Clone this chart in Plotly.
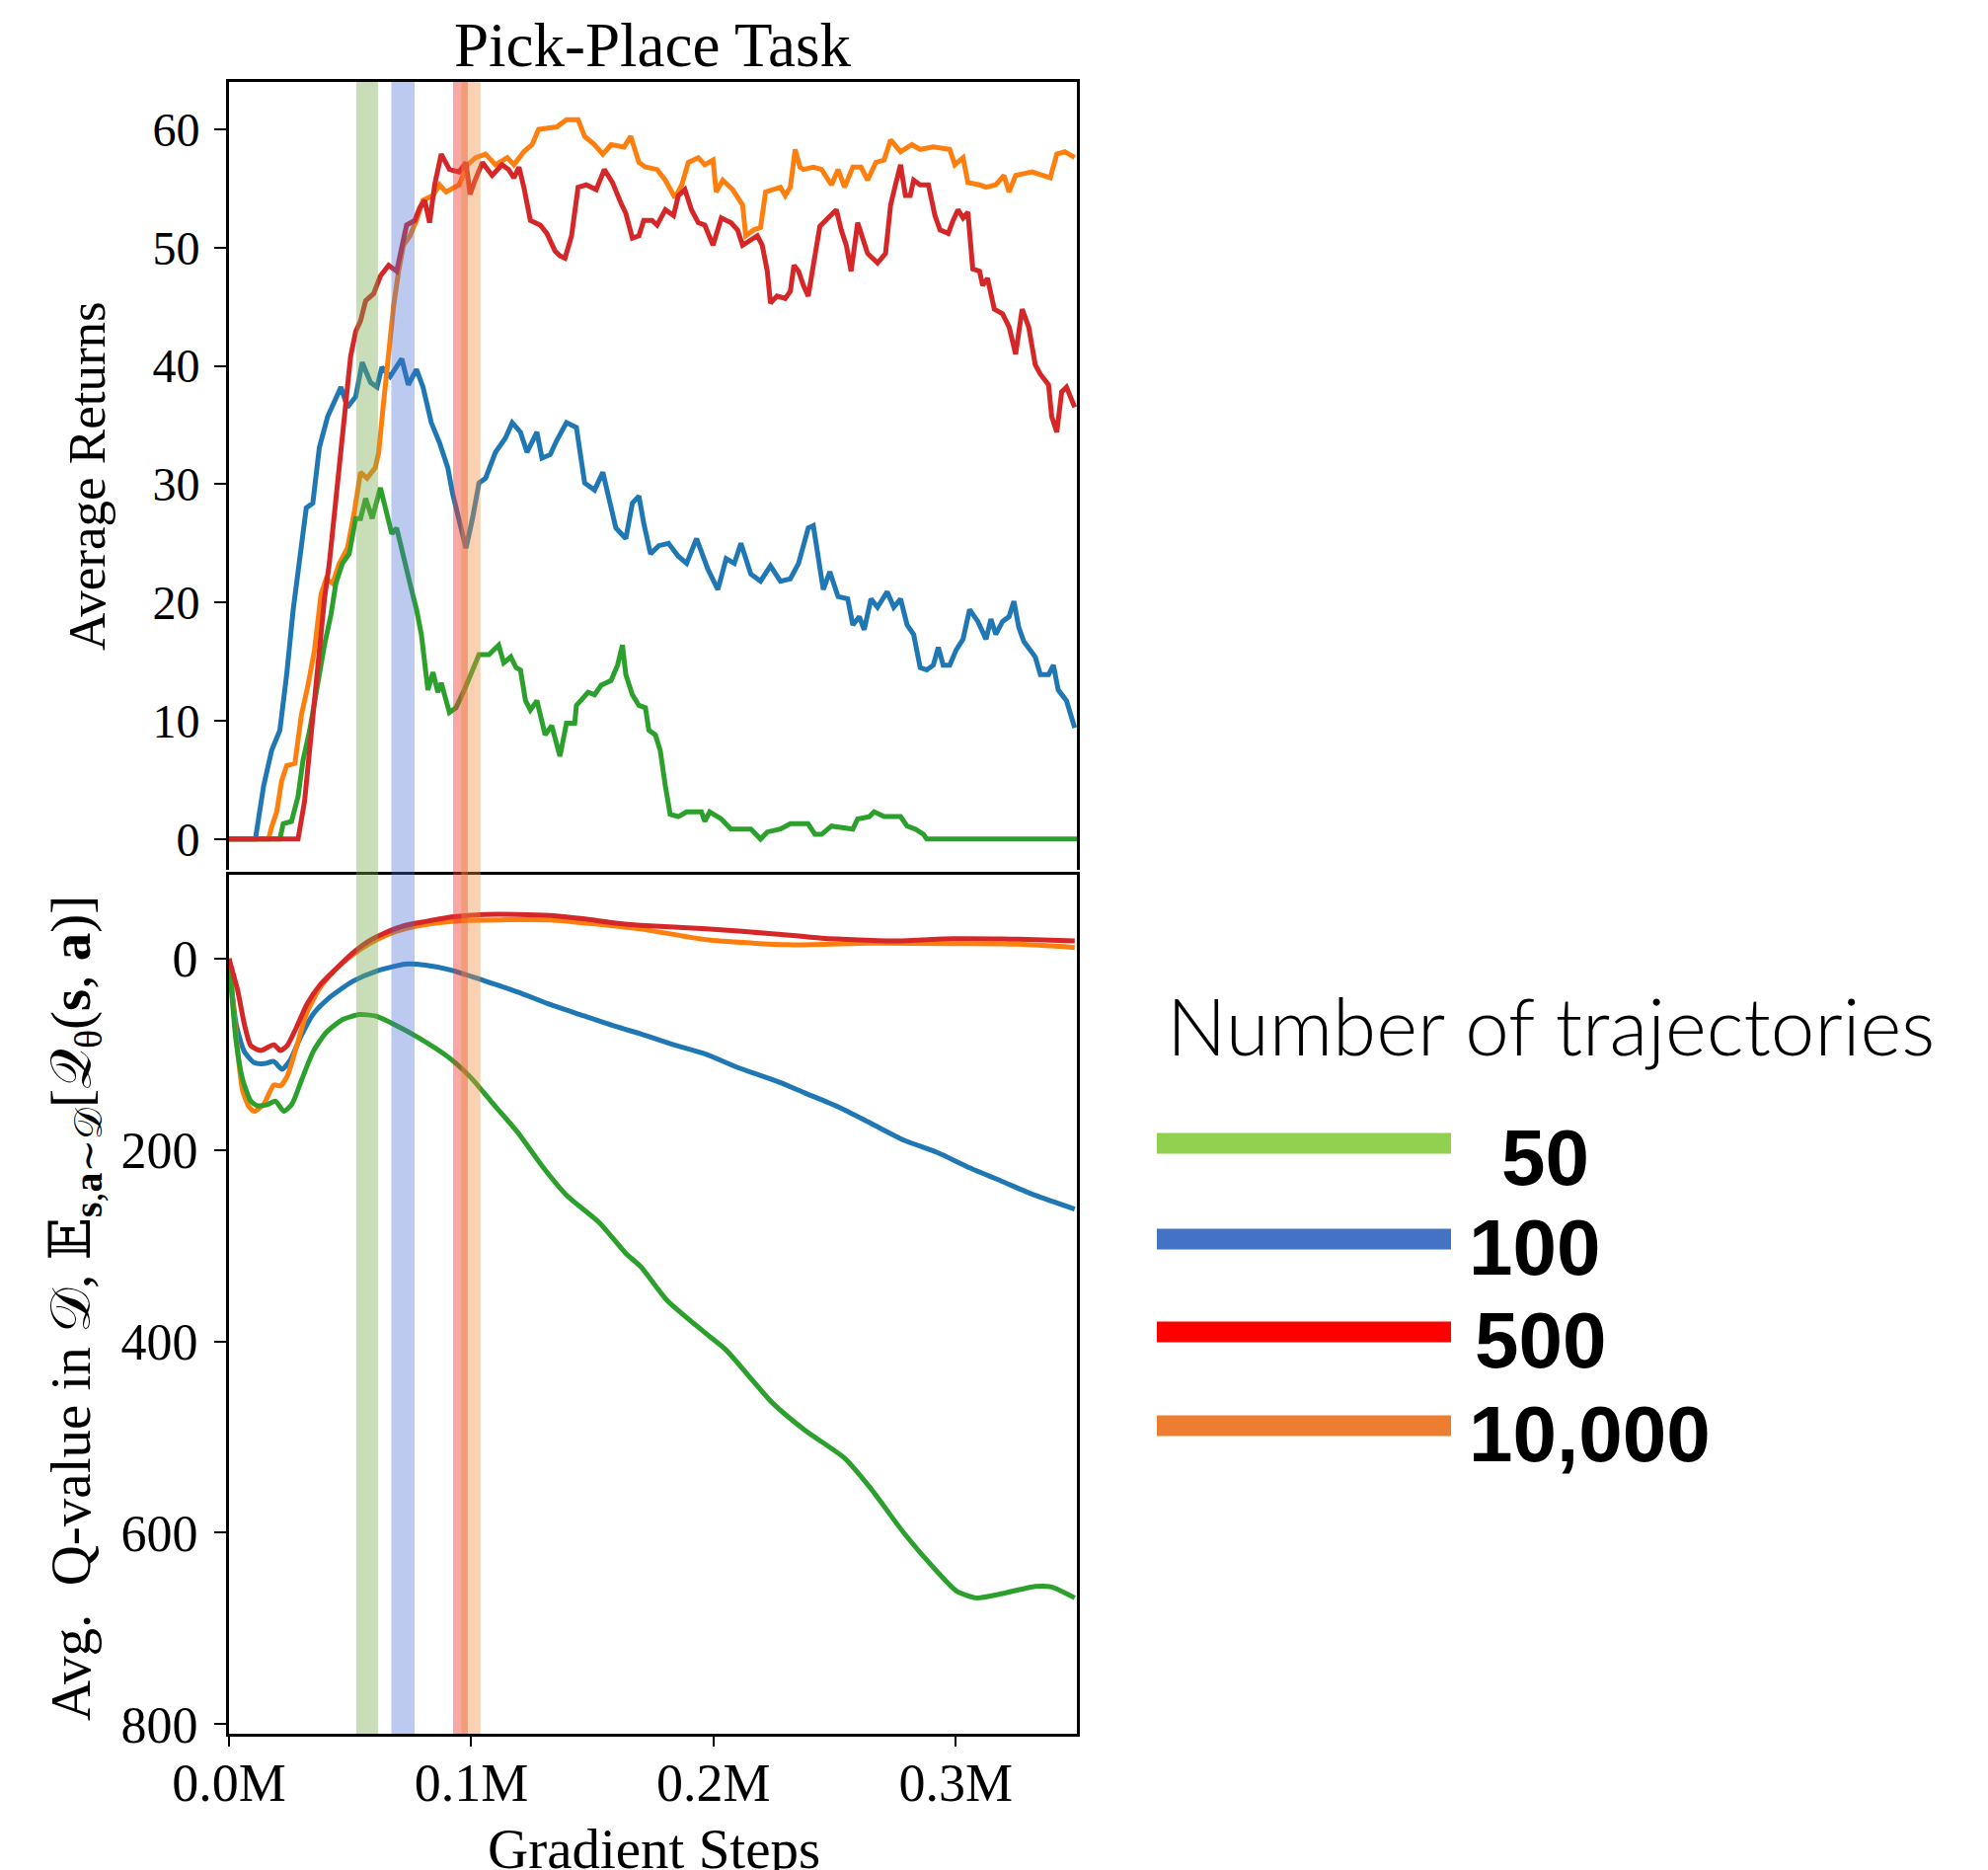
import plotly.graph_objects as go

W, H = 2014, 1894

# ---------------- data (x in thousands of gradient steps) ----------------
ret_50_x = [0, 21, 22.4, 25.8, 28.5, 30.5, 33.3, 36.7, 39.4, 42.1, 44.1, 46.8, 49.6, 52.3, 54.3, 56.4, 59.1, 62.5, 65.2, 67.2, 69.2, 72, 74.7, 77.4, 79.4, 82.1, 84.2, 86.2, 87.6, 91, 93.7, 97.1, 100.5, 103.2, 107.3, 111.3, 113.4, 116.3, 118.5, 120.3, 122.4, 124.4, 127.1, 130.5, 133.2, 136.6, 139.3, 142.7, 143.4, 148.2, 150.9, 153.6, 157.7, 160.4, 162.4, 163.8, 166.5, 169.2, 171.9, 173.3, 176, 178, 180.1, 182.1, 185.5, 188.9, 195, 196.4, 198.4, 203.2, 207.2, 215.4, 219.4, 222.2, 227.6, 231.7, 239, 241.9, 244.6, 248.7, 257.5, 259.5, 264.3, 266.3, 270.4, 277.2, 279.9, 283.3, 286.7, 288, 350]
ret_50_y = [0, 0, 1.3, 1.5, 3.6, 6.6, 9.2, 13.4, 16.4, 19, 21.6, 23.3, 24.1, 27.1, 27.1, 28.8, 27.1, 29.7, 27.5, 25.8, 26.3, 24.1, 21.6, 19.4, 17.3, 12.6, 14.1, 12.4, 13.2, 10.7, 11.1, 12.6, 14.3, 15.6, 15.6, 16.4, 14.9, 15.4, 14.5, 14.3, 11.7, 10.9, 11.7, 8.8, 9.6, 7, 9.8, 9.8, 11.3, 12.4, 12.2, 13, 13.4, 14.7, 16.4, 13.9, 12.2, 11.3, 11.1, 9.2, 8.8, 7.5, 4.5, 2.1, 1.9, 2.3, 2.3, 1.5, 2.3, 1.7, 0.85, 0.85, 0, 0.6, 0.85, 1.3, 1.3, 0.4, 0.4, 1.1, 0.85, 1.7, 1.9, 2.3, 1.9, 1.9, 1.1, 0.85, 0.4, 0, 0]

ret_100_x = [0, 10.9, 14.3, 17.6, 21, 23.8, 26.5, 29.2, 31.9, 34.6, 37.3, 40.7, 44.1, 46.2, 48.9, 52.3, 55, 58.4, 61.1, 63.1, 66.5, 71.3, 74, 77.4, 80.1, 83.5, 86.9, 90.3, 92.3, 95, 97.8, 100.5, 103.2, 105.9, 110, 114.1, 116.9, 120.3, 123, 127.1, 129.2, 132.6, 135.3, 139.3, 143.4, 146.8, 150.9, 154.3, 159.7, 163.8, 166.5, 169.2, 171.2, 174, 177.4, 181.4, 185.5, 188.9, 193, 197.7, 201.8, 205.2, 208.6, 211.3, 215.4, 219.4, 223.5, 227.6, 231.7, 235.1, 237.5, 239.1, 241.2, 243.2, 245.3, 248, 251.4, 255.4, 257.5, 260.2, 262.2, 265, 267.7, 271.7, 274.4, 277.2, 279.9, 282.6, 285.3, 288, 290.7, 292.8, 294.8, 297.5, 300.2, 303, 305.7, 309.1, 312.5, 314.5, 316.5, 319.3, 322, 324, 326, 328.1, 330.1, 332.8, 334.9, 338.3, 340.3, 342.3, 345.7, 349.1]
ret_100_y = [0, 0, 4.5, 7.5, 9.2, 13.9, 19.4, 24.1, 28, 28.4, 33.1, 35.7, 37.4, 38.2, 36.5, 37.4, 40.3, 38.6, 38.2, 39.9, 39.1, 40.6, 38.4, 39.7, 38.2, 35.2, 33.5, 31.4, 29.2, 27.1, 24.6, 27.1, 30.1, 30.5, 32.7, 33.9, 35.2, 34.4, 32.7, 34.4, 32.2, 32.5, 33.7, 35.2, 34.8, 30.1, 29.5, 31, 26.3, 25.4, 28.4, 29, 26.7, 24.1, 24.8, 25, 23.9, 23.3, 25.4, 22.8, 21.1, 23.7, 23.3, 25, 22.4, 21.8, 23.1, 21.8, 22, 23.3, 25, 26.3, 26.5, 24.1, 21.1, 22.6, 20.5, 20.3, 18.1, 18.8, 17.7, 20.3, 19.6, 20.9, 19.6, 20.3, 18.1, 17.3, 14.5, 14.3, 14.7, 16.2, 14.7, 14.7, 16, 16.9, 19.4, 18.4, 16.9, 18.6, 17.3, 18.4, 18.8, 20.1, 17.9, 16.7, 16.2, 15.4, 13.9, 13.9, 14.7, 12.6, 11.7, 9.4]

ret_500_x = [0, 28.5, 31.2, 33.9, 36.7, 39.4, 41.4, 44.1, 46.8, 48.9, 50.2, 52.3, 54.3, 56.4, 59.7, 62.5, 65.9, 69.2, 71.3, 73.3, 76.7, 78.8, 80.8, 82.8, 84.9, 87.6, 91, 95, 97.8, 99.5, 101.2, 104.6, 108.6, 112.7, 115.4, 117.6, 119.7, 121.7, 124.4, 128.5, 131.2, 134.6, 136.6, 138.7, 141.4, 144.1, 147.5, 151.6, 154.9, 158.3, 161.7, 163.8, 166.5, 169.2, 171.2, 174.6, 176.7, 180.1, 183.5, 185.5, 188.2, 190.9, 193.7, 196.4, 199.8, 203.2, 207.2, 209.9, 212, 216, 218.1, 220.1, 222.2, 223.5, 226.2, 229.6, 231.7, 233.2, 235.1, 237.1, 239.1, 241.2, 243.9, 247.3, 250.7, 252.7, 254.8, 256.8, 259.5, 263.6, 267.7, 271, 273.1, 275.1, 277.2, 279.2, 281.2, 282.6, 285.3, 288.7, 291.4, 293.5, 296.9, 298.9, 300.9, 303, 305, 307, 309.8, 311.1, 313.1, 315.9, 319.3, 322, 324.7, 327.4, 330.1, 332.8, 334.9, 338.3, 339.6, 341.7, 343.7, 345.7, 349.1]
ret_500_y = [0, 0, 3.2, 8.8, 14.3, 20.3, 23.3, 28.4, 33.5, 37.8, 40.8, 42.9, 43.8, 45.5, 46.1, 47.6, 48.5, 48, 50.2, 51.9, 52.3, 53.4, 54, 52.1, 55.3, 57.9, 56.6, 56.4, 57.2, 54.5, 55.5, 57.2, 56.1, 57, 56.6, 55.9, 56.8, 55.1, 52.3, 51.9, 51.2, 49.7, 49.3, 49.1, 51, 55.1, 55.3, 54.9, 56.6, 55.5, 53.8, 52.9, 50.8, 51, 52.3, 52.3, 51.9, 53.2, 52.7, 54.4, 54.9, 53.2, 52.1, 51.9, 50.2, 52.5, 52.1, 51.5, 50.2, 50.8, 51, 50.2, 48, 45.3, 45.9, 45.7, 46.3, 48.5, 48, 46.8, 45.9, 48.5, 51.8, 52.5, 53.2, 51.5, 50.2, 48, 52.1, 49.5, 48.7, 49.5, 53.6, 55.3, 57, 54.4, 54.4, 55.7, 55.3, 55.3, 52.7, 51.5, 51.2, 52.3, 53.2, 52.5, 53, 48.2, 48, 46.8, 47.4, 44.8, 44.4, 43.3, 41, 44.8, 43.3, 40.1, 39.3, 38.4, 35.7, 34.4, 37.8, 38.2, 36.5]

ret_10000_x = [0, 16.3, 17.7, 19.7, 21.7, 23.8, 27.2, 29.9, 32.6, 35.3, 38, 40.1, 42.8, 45.5, 48.9, 51.6, 54.3, 57, 60.4, 61.8, 63.8, 65.9, 67.9, 70, 72, 74.7, 77.4, 80.1, 84.2, 86.9, 89.6, 95, 98.5, 101.8, 105.9, 110, 114.9, 117.6, 121.7, 125.1, 127.8, 135.3, 139.3, 144.1, 146.8, 150.9, 154.3, 157.7, 163.1, 165.8, 169.2, 171.9, 176.7, 180.1, 184.1, 186.9, 189.6, 193.7, 196.4, 199.8, 201.1, 203.8, 207.9, 212, 213.3, 216.7, 219.4, 221.5, 224.9, 227.6, 229.6, 231.7, 233.7, 235.7, 237.1, 241.2, 244.6, 248.7, 251.4, 254.1, 257.5, 260.9, 263.6, 267, 270.4, 273.1, 277.2, 281.9, 285.3, 290.7, 297.5, 299.6, 303, 305, 309.8, 312.5, 316.5, 319.9, 322, 324.7, 331.5, 339, 341.7, 345, 349.1]
ret_10000_y = [0, 0, 1.1, 2.3, 4.9, 6.2, 6.4, 10.5, 13, 16, 20.7, 22, 21.6, 23.3, 24.6, 27.5, 31, 30.5, 31.4, 32.7, 36.9, 41.2, 45, 48, 50.2, 51, 52.3, 54, 54.4, 55.3, 54.7, 55.3, 57, 57.6, 57.9, 57, 57.6, 57, 58.1, 58.7, 60, 60.2, 60.8, 60.8, 59.4, 58.7, 57.9, 58.7, 58.5, 59.4, 57.2, 56.8, 56.6, 55.7, 54.2, 55.3, 57.2, 57.6, 57, 57.4, 54.7, 55.7, 54.9, 53.6, 51, 51.5, 51.7, 54.7, 54.9, 55.1, 54.4, 55.1, 58.3, 56.8, 56.6, 56.8, 56.6, 55.3, 56.6, 55.1, 56.8, 56.8, 55.7, 57.2, 57.4, 59.1, 58.1, 58.7, 58.3, 58.5, 58.3, 57, 57.6, 55.5, 55.3, 55.1, 55.3, 56.1, 54.7, 56.1, 56.4, 55.9, 57.9, 58.1, 57.6]

q_50_x = [0, 2.9, 5.6, 9, 11.7, 15.8, 19.2, 22.6, 26, 30.1, 34.8, 40.2, 47, 53.8, 60.6, 68.7, 78.3, 90.5, 100, 108.1, 119, 129.8, 139.4, 153, 163.8, 170, 180.8, 197, 205.2, 224.2, 237.8, 254.1, 265, 278.5, 292.1, 300.2, 308.4, 319.3, 332.8, 339.6, 349.1]
q_50_y = [0, -85.5, -126, -149, -153.7, -152.6, -149, -159.5, -152, -126, -97, -76.9, -63.6, -58.4, -60.1, -69.4, -82.7, -102.9, -124.8, -149, -181, -218.5, -247.4, -276.3, -308, -322, -357, -392, -409, -464, -493, -522, -554, -600, -640, -660.7, -668, -663.5, -656, -656.6, -668]

q_100_x = [0, 2.9, 6.3, 10.4, 14.4, 18.5, 21.9, 25.3, 29.4, 34.8, 41.6, 51.1, 60.6, 72.8, 81, 91.8, 105.4, 119, 132.6, 146.1, 159.7, 169.9, 183.5, 197, 210.6, 226.9, 237.8, 251.4, 265, 278.5, 292.1, 305.7, 319.3, 332.8, 349.1]
q_100_y = [0, -68, -97, -108.7, -109.8, -107.5, -115.6, -106, -82.7, -57.8, -40.5, -23.7, -13.3, -5.8, -6.9, -12.1, -23.1, -34.7, -48, -59.5, -71, -78.6, -90, -100, -114.4, -128.9, -140.5, -154.9, -172.2, -189.6, -202.3, -218.5, -233, -247.4, -261.8]

q_500_x = [0, 3.6, 6.3, 9, 13.1, 18.5, 21.2, 24, 28, 32.1, 37.5, 44.3, 51.1, 57.9, 64.7, 72.8, 81, 91.8, 105.4, 119, 132.6, 146.1, 159.7, 169.9, 197, 224.2, 244.6, 275.8, 298.9, 326, 349.1]
q_500_y = [0, -33.5, -68, -91, -96, -90, -96, -91, -71, -48, -27.7, -10.4, 5.8, 18.5, 27.2, 34.7, 38.7, 43.4, 46.2, 46.2, 45, 41.6, 37, 34.7, 31.2, 26, 21.4, 18.5, 20.8, 20.2, 18.5]

q_10000_x = [0, 2.9, 5.6, 8.3, 10.4, 14.4, 18.5, 21.2, 24, 28, 32.1, 37.5, 44.3, 51.1, 57.9, 64.7, 72.8, 85, 98.6, 112.2, 132.6, 153, 170, 197, 231, 265, 298.9, 326, 349.1]
q_10000_y = [0, -80, -137.6, -155, -159.5, -152, -132, -133, -123, -91, -56.6, -30.6, -10.4, 4, 15.6, 24.3, 31.2, 37, 39.9, 40.5, 40.5, 35.8, 31, 19.7, 14.5, 16.2, 15.6, 15, 11.6]

# highlighted step ranges (thousands of steps)
band_start = [52.5, 67.0, 92.5, 95.9]
band_end = [61.5, 76.6, 98.6, 103.8]

legend_labels = ["50", "100", "500", "10,000"]
x_tickvals = [0, 100, 200, 300]
x_ticktext = ["0.0M", "0.1M", "0.2M", "0.3M"]
ret_tickvals = [0, 10, 20, 30, 40, 50, 60]
q_tickvals = [0, -200, -400, -600, -800]
q_ticktext = ["0", "200", "400", "600", "800"]

# ---------------- styles ----------------
C_GREEN, C_BLUE, C_RED, C_ORANGE = "#2ca02c", "#1f77b4", "#d62728", "#ff7f0e"
band_colors = ["rgba(120,170,80,0.40)", "rgba(70,110,210,0.37)",
               "rgba(240,60,50,0.45)", "rgba(235,140,60,0.40)"]
legend_colors = ["#92d050", "#4472c4", "#ff0000", "#ed7d31"]
SERIF = "Liberation Serif, DejaVu Serif, serif"


def px(xp):
    return xp / W


def py(yp):
    return 1 - yp / H


fig = go.Figure()

top_series = [(ret_100_x, ret_100_y, C_BLUE), (ret_10000_x, ret_10000_y, C_ORANGE),
              (ret_50_x, ret_50_y, C_GREEN), (ret_500_x, ret_500_y, C_RED)]
for xs, ys, c in top_series:
    fig.add_trace(go.Scatter(x=xs, y=ys, mode="lines", xaxis="x2", yaxis="y2",
                             line=dict(color=c, width=5), showlegend=False,
                             hoverinfo="skip"))

bot_series = [(q_100_x, q_100_y, C_BLUE), (q_10000_x, q_10000_y, C_ORANGE),
              (q_50_x, q_50_y, C_GREEN), (q_500_x, q_500_y, C_RED)]
for xs, ys, c in bot_series:
    fig.add_trace(go.Scatter(x=xs, y=ys, mode="lines", xaxis="x", yaxis="y",
                             line=dict(color=c, width=5, shape="spline", smoothing=0.6),
                             showlegend=False, hoverinfo="skip"))

xdom = [px(232), px(1091)]

fig.update_layout(
    template="none",
    width=W, height=H, margin=dict(l=0, r=0, t=0, b=0, pad=0, autoexpand=False),
    paper_bgcolor="white", plot_bgcolor="white",
    xaxis=dict(domain=xdom, range=[0, 350], tickvals=x_tickvals, ticktext=x_ticktext,
               automargin=False, showgrid=False, zeroline=False, showline=True, mirror=True,
               linecolor="black", linewidth=3, ticks="outside", ticklen=10,
               tickwidth=2, tickcolor="black", ticklabelstandoff=-10,
               tickfont=dict(family=SERIF, size=54, color="black"), anchor="y"),
    yaxis=dict(domain=[py(1756), py(886)], range=[-810, 87.6], tickvals=q_tickvals,
               ticktext=q_ticktext, automargin=False, showgrid=False, zeroline=False,
               showline=True, mirror=True, linecolor="black", linewidth=3,
               ticks="outside", ticklen=12, tickwidth=2, tickcolor="black",
               ticklabelstandoff=6,
               tickfont=dict(family=SERIF, size=52, color="black"), anchor="x"),
    xaxis2=dict(domain=xdom, range=[0, 350], automargin=False, showgrid=False,
                zeroline=False, showline=True, side="top", linecolor="black",
                linewidth=3, showticklabels=False, ticks="", anchor="y2"),
    yaxis2=dict(domain=[py(881), py(83)], range=[-2.6, 64], tickvals=ret_tickvals,
                automargin=False, showgrid=False, zeroline=False, showline=True,
                mirror=True, linecolor="black", linewidth=3, ticks="outside",
                ticklen=12, tickwidth=2, tickcolor="black", ticklabelstandoff=5,
                tickfont=dict(family=SERIF, size=48, color="black"), anchor="x2"),
)

shapes = []
for s, e, c in zip(band_start, band_end, band_colors):
    shapes.append(dict(type="rect", xref="x", yref="paper", x0=s, x1=e,
                       y0=py(1756), y1=py(83), fillcolor=c, line=dict(width=0),
                       layer="above"))
legend_y = [1158, 1255, 1349, 1444]
for yy, c in zip(legend_y, legend_colors):
    shapes.append(dict(type="line", xref="paper", yref="paper", x0=px(1172), x1=px(1470),
                       y0=py(yy), y1=py(yy), line=dict(color=c, width=21)))
fig.update_layout(shapes=shapes)

ann = []
ann.append(dict(text="Pick-Place Task", x=px(661), y=py(46), xref="paper", yref="paper",
                showarrow=False, xanchor="center", yanchor="middle",
                font=dict(family=SERIF, size=63, color="black")))
ann.append(dict(text="Average Returns", x=px(88), y=py(482), xref="paper", yref="paper",
                showarrow=False, textangle=-90, xanchor="center", yanchor="middle",
                font=dict(family=SERIF, size=53, color="black")))
ann.append(dict(text="Avg.  Q-value in 𝒟, 𝔼<sub><b>s</b>,<b>a</b>∼𝒟</sub>[𝒬<sub>θ</sub>(<b>s</b>, <b>a</b>)]",
                x=px(76), y=py(1325), xref="paper", yref="paper",
                showarrow=False, textangle=-90, xanchor="center", yanchor="middle",
                font=dict(family=SERIF, size=57, color="black")))
ann.append(dict(text="Gradient Steps", x=px(662), y=py(1872), xref="paper", yref="paper",
                showarrow=False, xanchor="center", yanchor="middle",
                font=dict(family=SERIF, size=57, color="black")))
ann.append(dict(text="Number of trajectories", x=px(1180), y=py(1038), xref="paper",
                yref="paper", showarrow=False, xanchor="left", yanchor="middle",
                font=dict(family="Lato, Open Sans, sans-serif", size=80, color="black",
                          weight=300)))
label_pos = [(1519, 1172), (1486, 1263), (1492, 1357), (1486, 1452)]
for lab, (lx, ly) in zip(legend_labels, label_pos):
    ann.append(dict(text=lab, x=px(lx), y=py(ly), xref="paper", yref="paper",
                    showarrow=False, xanchor="left", yanchor="middle",
                    font=dict(family="Liberation Sans, Arial, sans-serif", size=80,
                              color="black", weight="bold")))
fig.update_layout(annotations=ann)

fig.write_html("out.html")
